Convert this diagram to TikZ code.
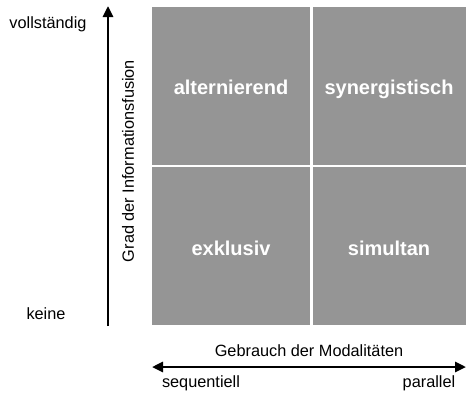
\documentclass[tikz,border=0pt]{standalone}
\usepackage{fontspec}
\setmainfont{Liberation Sans}
\usetikzlibrary{arrows.meta}
\definecolor{cellgray}{HTML}{959595}
\tikzset{axistip/.tip={Triangle[length=11pt,width=10pt]}}
\begin{document}
\begin{tikzpicture}[x=1pt,y=-1pt,
  cell/.style={fill=cellgray,draw=none,minimum width=158pt,minimum height=158pt,inner sep=0pt},
  celltext/.style={anchor=base,inner sep=0pt,text=white,
    font=\fontsize{20}{23}\selectfont\bfseries},
  lbl/.style={anchor=base,font=\fontsize{16.3}{19}\selectfont,inner sep=0pt},
  axis/.style={line width=2.6pt}]
\useasboundingbox (0,0) rectangle (466,392);
% quadrants
\node[cell,anchor=north west] (alt) at (152,7) {};
\node[cell,anchor=north west] (syn) at (311,7) {};
\node[cell,anchor=north west] (exk) at (152,167) {};
\node[cell,anchor=north west] (sim) at (311,167) {};
\node[celltext] (altT) at (231,94) {alternierend};
\node[celltext] (synT) at (389,94) {synergistisch};
\node[celltext] (exkT) at (231,255) {exklusiv};
\node[celltext] (simT) at (389,255) {simultan};
% white separator lines
\fill[white] (310,7) rectangle (312.5,328);
\fill[white] (152,164.5) rectangle (466,167);
% vertical axis
\coordinate (ybot) at (108,326);
\coordinate (ytop) at (108,6);
\draw[axis,-axistip] (ybot) -- (ytop);
\node[anchor=center,inner sep=0pt,font=\fontsize{16.3}{19}\selectfont,rotate=90] (ylab) at (128,161) {Grad der Informationsfusion};
\node[lbl] (voll) at (48,28) {vollständig};
\node[lbl] (keine) at (46,319) {keine};
% horizontal axis
\coordinate (xl) at (152,367);
\coordinate (xr) at (466,367);
\draw[axis,axistip-axistip] (xl) -- (xr);
\node[lbl] (xlab) at (309,356) {Gebrauch der Modalitäten};
\node[lbl] (seq) at (201,387) {sequentiell};
\node[lbl] (par) at (429,387) {parallel};
\end{tikzpicture}
\end{document}
